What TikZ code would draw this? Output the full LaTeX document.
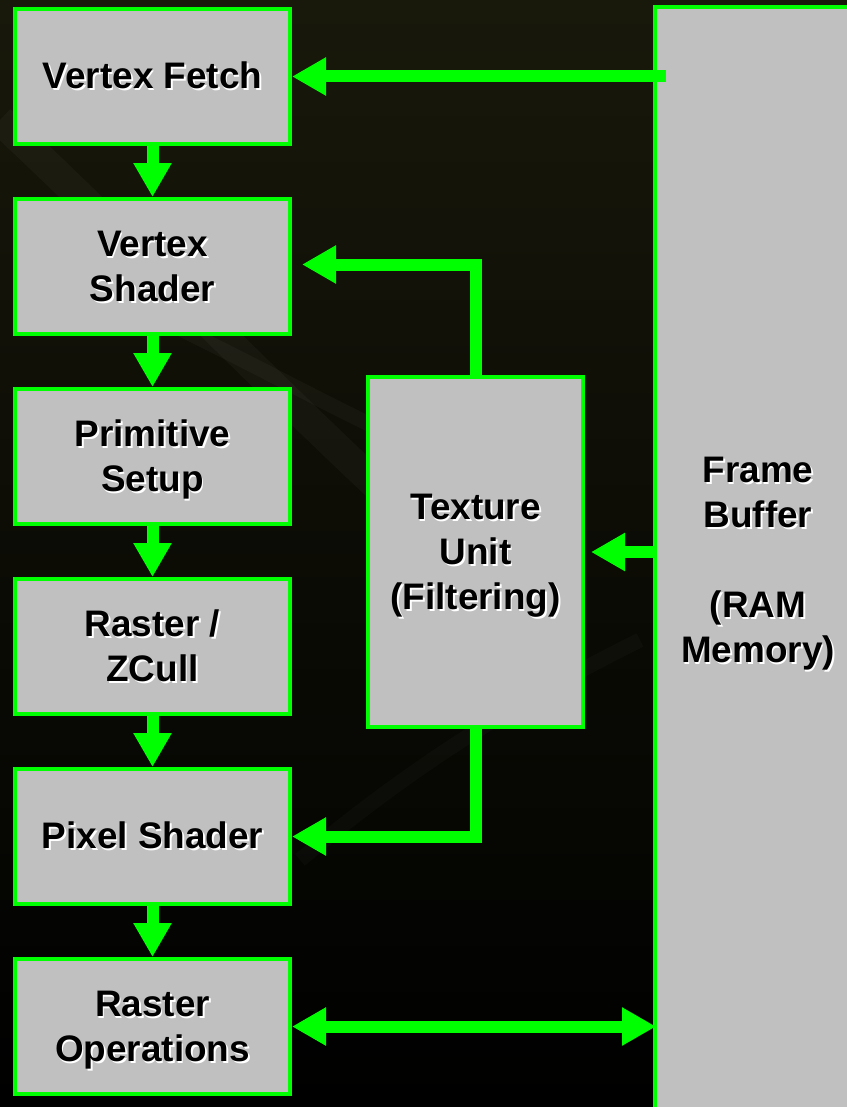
\documentclass[tikz,border=0pt]{standalone}
\usepackage{fontspec}
\setmainfont{Liberation Sans}
\usetikzlibrary{arrows.meta}
\definecolor{gpugreen}{RGB}{0,255,0}
\definecolor{boxgray}{RGB}{192,192,192}
\definecolor{bgtop}{RGB}{24,24,11}
\definecolor{bgmid}{RGB}{8,8,4}
% bold text with a small white drop shadow
\newcommand\shadowed[1]{\raisebox{-0.85mm}[\height][\depth]{\rlap{\kern0.35mm\raisebox{-0.35mm}{\color{white}\begin{tabular}{@{}c@{}}#1\end{tabular}}}\begin{tabular}{@{}c@{}}#1\end{tabular}}}
\begin{document}
\begin{tikzpicture}[
x=0.2mm, y=-0.2mm,
node distance=38mm,
stage/.style={draw=gpugreen, fill=boxgray, line width=0.8mm, inner sep=0pt, minimum width=55mm, minimum height=27mm, font=\bfseries\fontsize{21}{25.6}\selectfont},
flow/.style={draw=gpugreen, line width=2.4mm, miter limit=4, -{Triangle[length=6.8mm, width=7.2mm]}},
both/.style={flow, {Triangle[length=6.8mm, width=7.2mm]}-{Triangle[length=6.8mm, width=7.2mm]}}
]
\clip (0,0) rectangle (847,1107);
\fill[top color=bgtop, middle color=bgmid, bottom color=black] (0,0) rectangle (847,1107);
\draw[white, opacity=0.03, line width=6mm] (0,120) .. controls (150,260) and (300,420) .. (480,580);
\draw[white, opacity=0.03, line width=3mm] (120,300) .. controls (250,360) and (350,420) .. (470,470);
\draw[white, opacity=0.025, line width=3mm] (300,860) .. controls (420,760) and (520,700) .. (640,640);

\node[stage] (fetch) at (152.5,76.5) {\shadowed{Vertex Fetch}};
\node[stage, below of=fetch] (vshader) {\shadowed{Vertex\\Shader}};
\node[stage, below of=vshader] (setup) {\shadowed{Primitive\\Setup}};
\node[stage, below of=setup] (raster) {\shadowed{Raster /\\ZCull}};
\node[stage, below of=raster] (pshader) {\shadowed{Pixel Shader}};
\node[stage, below of=pshader] (rop) {\shadowed{Raster\\Operations}};
\node[stage, minimum width=43mm, minimum height=70mm] (tex) at (475.5,552) {\shadowed{Texture\\Unit\\(Filtering)}};
\node[stage, minimum width=41.2mm, minimum height=221.2mm] (fb) at (758,560) {\shadowed{Frame\\Buffer\\\\(RAM\\Memory)}};

\draw[flow] (fetch) -- (vshader);
\draw[flow] (vshader) -- (setup);
\draw[flow] (setup) -- (raster);
\draw[flow] (raster) -- (pshader);
\draw[flow] (pshader) -- (rop);
\draw[flow] ([xshift=2.6mm]fb.west |- fetch.east) -- (fetch.east);
\draw[flow] (tex.north) |- ([xshift=2mm, yshift=0.4mm]vshader.east);
\draw[flow] (fb.west |- tex.east) -- ([xshift=1.2mm]tex.east);
\draw[flow] (tex.south) |- (pshader.east);
\draw[both] (rop.east) -- ([xshift=0.6mm]fb.west |- rop.east);
\end{tikzpicture}
\end{document}
